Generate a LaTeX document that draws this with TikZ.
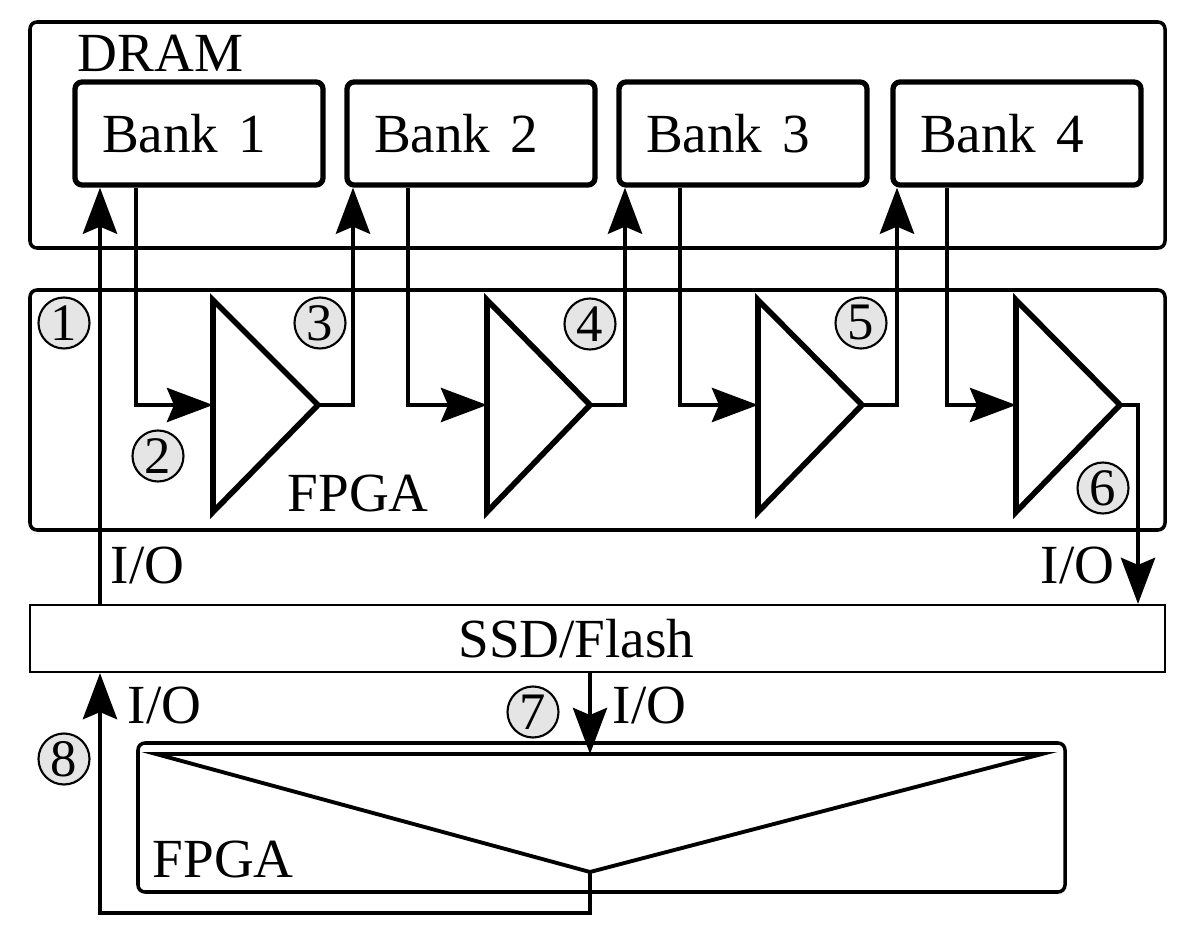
\documentclass[tikz,border=0pt]{standalone}
\usepackage{fontspec}
\setmainfont{Liberation Serif}
\newfontfamily\timesfam{Liberation Serif}
\usetikzlibrary{positioning,arrows.meta,calc}
\newcommand{\bigtxt}{\timesfam\fontsize{15.7}{19}\selectfont}
\tikzset{
  box/.style={draw,line width=1pt,rounded corners=2pt},
  bank/.style={draw,line width=1.5pt,rounded corners=2pt,minimum width=24.8mm,minimum height=10.3mm,font=\bigtxt},
  num/.style={circle,draw,line width=0.6pt,fill=gray!20,inner sep=0pt,minimum size=5.1mm,font=\timesfam\fontsize{15}{15}\selectfont},
  lbl/.style={anchor=base west,inner sep=0pt,font=\bigtxt},
  flow/.style={line width=1.4pt,-{Stealth[length=4.6mm,width=3.4mm,inset=0.7mm]}},
  amp/.style={line width=1.6pt,miter limit=20}
}
\begin{document}
\begin{tikzpicture}[x=0.1mm,y=-0.1mm]
\useasboundingbox (0,0) rectangle (1188,932);
% DRAM with its banks
\draw [box] (30,22) rectangle (1165,248);
\node [lbl] (dram) at (77,72) {DRAM};
\node [bank] (bank1) at (199,133.5) {Bank\hspace{0.36em}1\hspace*{3mm}};
\node [bank] (bank2) at (471,133.5) {Bank\hspace{0.36em}2\hspace*{3mm}};
\node [bank] (bank3) at (743,133.5) {Bank\hspace{0.36em}3\hspace*{3mm}};
\node [bank] (bank4) at (1017,133.5) {Bank\hspace{0.36em}4\hspace*{3mm}};
% FPGA with the adder chain
\draw [box] (30,290) rectangle (1165,530);
\node [lbl] (fpga1) at (287,512) {FPGA};
\draw [amp] (213,300) -- (318,405) -- (213,512) -- cycle;
\draw [amp] (487,300) -- (590,405) -- (487,512) -- cycle;
\draw [amp] (758,300) -- (862,405) -- (758,512) -- cycle;
\draw [amp] (1016,300) -- (1120,405) -- (1016,512) -- cycle;
\coordinate (t1in) at (213,405); \coordinate (t1out) at (318,405);
\coordinate (t2in) at (487,405); \coordinate (t2out) at (590,405);
\coordinate (t3in) at (758,405); \coordinate (t3out) at (862,405);
\coordinate (t4in) at (1016,405); \coordinate (t4out) at (1120,405);
\coordinate (d1) at (136,405); \coordinate (d2) at (408,405);
\coordinate (d3) at (680,405); \coordinate (d4) at (947,405);
\coordinate (u1) at (100,0); \coordinate (u2) at (353,0);
\coordinate (u3) at (625,0); \coordinate (u4) at (897,0);
\coordinate (u5) at (1138,0);
% SSD
\node [draw,line width=0.6pt,minimum width=113.5mm,minimum height=6.7mm,font=\bigtxt] (ssd) at (597.5,638.5) {SSD/Flash\hspace*{4.2mm}};
% bottom FPGA with the reduction
\draw [box] (138,743) rectangle (1065,892);
\node [lbl] (fpga2) at (152,877) {FPGA};
\draw [line width=1.1pt] (156,754) -- (1042,754) -- (590,872) -- cycle;
\coordinate (rtop) at (590,754); \coordinate (rbot) at (590,872);
\coordinate (back) at (590,913);
% data flow
\draw [flow] (ssd.north -| u1) -- (bank1.south -| u1);
\draw [flow] (bank1.south -| d1) -- (d1) -- (t1in);
\draw [flow] (bank2.south -| d2) -- (d2) -- (t2in);
\draw [flow] (bank3.south -| d3) -- (d3) -- (t3in);
\draw [flow] (bank4.south -| d4) -- (d4) -- (t4in);
\draw [flow] (t1out) -| (bank2.south -| u2);
\draw [flow] (t2out) -| (bank3.south -| u3);
\draw [flow] (t3out) -| (bank4.south -| u4);
\draw [flow] (t4out) -| (ssd.north -| u5);
\draw [flow] (ssd.south -| rtop) -- (rtop);
\draw [flow] (rbot) -- (back) -| (ssd.south -| u1);
% labels
\node [lbl] (io1) at (110,583) {I/O};
\node [lbl] (io2) at (1040,583) {I/O};
\node [lbl] (io3) at (127,723) {I/O};
\node [lbl] (io4) at (612,723) {I/O};
\node [num] (n1) at (64,323) {1};
\node [num] (n2) at (158,456) {2};
\node [num] (n3) at (320,323) {3};
\node [num] (n4) at (590,324) {4};
\node [num] (n5) at (861,323) {5};
\node [num] (n6) at (1103,488) {6};
\node [num] (n7) at (533,712) {7};
\node [num] (n8) at (64,759) {8};
\end{tikzpicture}
\end{document}
